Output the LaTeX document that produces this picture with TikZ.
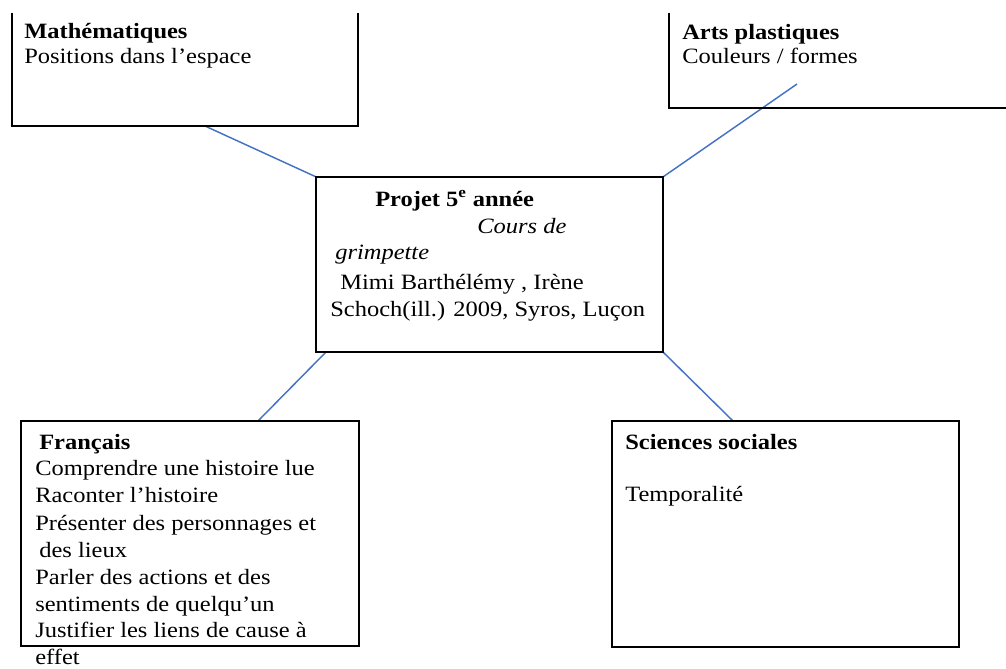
\documentclass[tikz,border=0pt]{standalone}
\usepackage{fontspec}
\setmainfont{Liberation Serif}[FakeStretch=1.12]
\usetikzlibrary{fit}
\definecolor{linkblue}{RGB}{68,114,196}
\begin{document}
\begin{tikzpicture}[x=0.75pt,y=-0.75pt,
  box/.style={draw=black, line width=1.5pt, inner sep=0pt},
  frame/.style={inner sep=0pt},
  edge/.style={black, line width=1.5pt},
  link/.style={draw=linkblue, line width=1.1pt},
  txt/.style={anchor=base west, inner sep=0pt, font=\fontsize{16.4}{19}\selectfont}]
\useasboundingbox (0,0) rectangle (1006,668);

% frames (positions)
\node[frame, fit={(12,13) (358,126)}] (math) {};
\node[frame, fit={(669,13) (1012,108)}] (arts) {};
\node[frame, fit={(316,177) (663,352)}] (proj) {};
\node[frame, fit={(21,421) (359,646)}] (fr) {};
\node[frame, fit={(612,421) (959,647)}] (ss) {};

% connector ends
\coordinate (mA) at (205,126);
\coordinate (aA) at (797,84);
\coordinate (pSW) at (326,352);
\coordinate (fA) at (258,421);
\coordinate (sA) at (733,421);

% connectors
\draw[link] (mA) -- (proj.north west);
\draw[link] (aA) -- (proj.north east);
\draw[link] (pSW) -- (fA);
\draw[link] (proj.south east) -- (sA);

% boxes
\draw[edge] (math.north west) -- (math.south west) -- (math.south east) -- (math.north east);
\draw[edge] (arts.north west) -- (arts.south west) -- (arts.south east);
\node[box, fit={(316,177) (663,352)}] (projB) {};
\node[box, fit={(21,421) (359,646)}] (frB) {};
\node[box, fit={(612,421) (959,647)}] (ssB) {};

% Mathématiques
\node[txt] (m1) at (24,38) {\textbf{Mathématiques}};
\node[txt] (m2) at (24,63) {Positions dans l’espace};

% Arts plastiques
\node[txt] (a1) at (682,39) {\textbf{Arts plastiques}};
\node[txt] (a2) at (682,63) {Couleurs / formes};

% Projet
\node[txt] (p1) at (375,206) {\textbf{Projet 5\textsuperscript{e} année}};
\node[txt] (p2) at (477,233) {\textit{Cours de}};
\node[txt] (p3) at (335,259) {\textit{grimpette}};
\node[txt] (p4) at (340,289) {Mimi Barthélémy , Irène};
\node[txt] (p5) at (330,316) {Schoch(ill.) 2009, Syros, Luçon};

% Français
\node[txt] (f1) at (39,449) {\textbf{Français}};
\node[txt] (f2) at (35,475) {Comprendre une histoire lue};
\node[txt] (f3) at (35,502) {Raconter l’histoire};
\node[txt] (f4) at (35,530) {Présenter des personnages et};
\node[txt] (f5) at (39,557) {des lieux};
\node[txt] (f6) at (35,584) {Parler des actions et des};
\node[txt] (f7) at (35,611) {sentiments de quelqu’un};
\node[txt] (f8) at (35,637) {Justifier les liens de cause à};
\node[txt] (f9) at (35,664) {effet};

% Sciences sociales
\node[txt] (s1) at (625,449) {\textbf{Sciences sociales}};
\node[txt] (s2) at (625,501) {Temporalité};
\end{tikzpicture}
\end{document}
